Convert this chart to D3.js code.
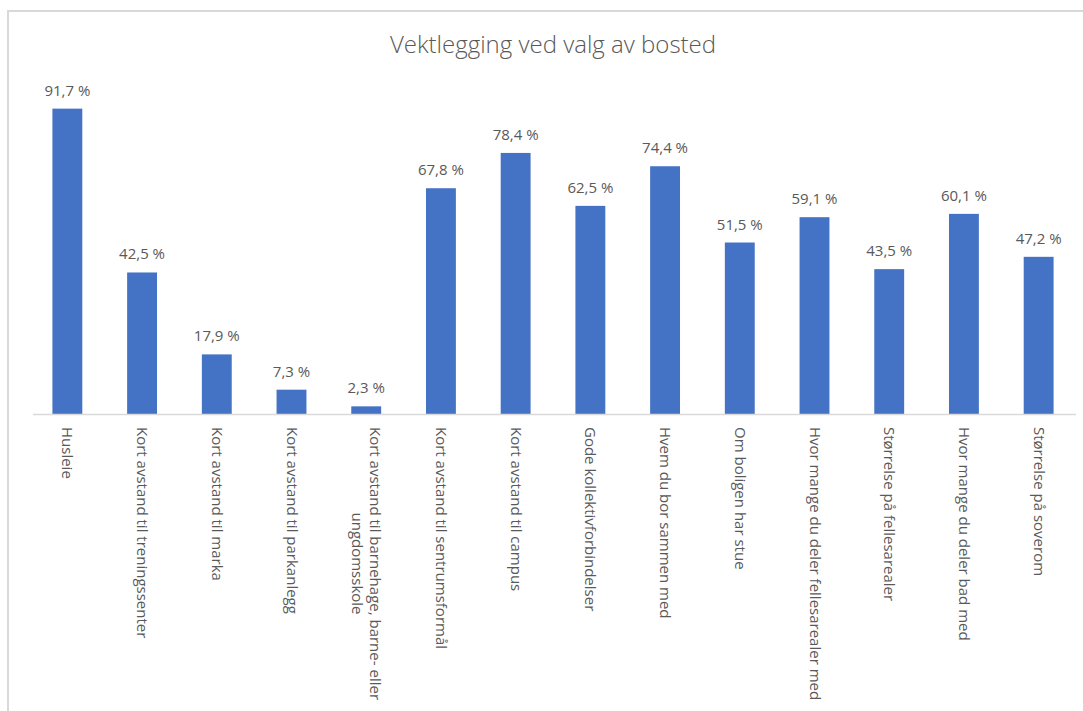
<!DOCTYPE html>
<html>
<head>
<meta charset="utf-8">
<script src="https://cdn.jsdelivr.net/npm/d3@7"></script>
<style>
  body { margin: 0; background: #fff; }
  text { font-family: "Open Sans", sans-serif; fill: #595959; }
</style>
</head>
<body>
<div class="canvas"></div>
<script>
const categories = [
  'Husleie',
  'Kort avstand til treningssenter',
  'Kort avstand til marka',
  'Kort avstand til parkanlegg',
  'Kort avstand til barnehage, barne- eller|ungdomsskole',
  'Kort avstand til sentrumsformål',
  'Kort avstand til campus',
  'Gode kollektivforbindelser',
  'Hvem du bor sammen med',
  'Om boligen har stue',
  'Hvor mange du deler fellesarealer med',
  'Størrelse på fellesarealer',
  'Hvor mange du deler bad med',
  'Størrelse på soverom'
];
const values = [91.7, 42.5, 17.9, 7.3, 2.3, 67.8, 78.4, 62.5, 74.4, 51.5, 59.1, 43.5, 60.1, 47.2];
const title = 'Vektlegging ved valg av bosted';

const dims = { width: 1083, height: 711 };
const plot = { left: 30, right: 1076, top: 81, bottom: 414 };

const svg = d3
  .select('.canvas')
  .append('svg')
  .attr('width', dims.width)
  .attr('height', dims.height);

// chart frame
svg
  .append('rect')
  .attr('x', 8)
  .attr('y', 11)
  .attr('width', dims.width)
  .attr('height', dims.height)
  .attr('fill', 'none')
  .attr('stroke', '#d9d9d9')
  .attr('stroke-width', 2);

svg
  .append('text')
  .attr('x', 553)
  .attr('y', 53)
  .attr('text-anchor', 'middle')
  .attr('font-size', 24)
  .attr('font-weight', 300)
  .text(title);

const x = d3.scaleBand().domain(categories).range([plot.left, plot.right]).padding(0);
const y = d3.scaleLinear().domain([0, 100]).range([plot.bottom, plot.top]);
const barW = x.bandwidth() * 0.4; // gap width 150%

const graph = svg.append('g');

graph
  .selectAll('rect.bar')
  .data(values)
  .enter()
  .append('rect')
  .attr('class', 'bar')
  .attr('x', (d, i) => x(categories[i]) + (x.bandwidth() - barW) / 2)
  .attr('y', (d) => y(d))
  .attr('width', barW)
  .attr('height', (d) => y(0) - y(d))
  .attr('fill', '#4472c4');

// value labels
graph
  .selectAll('text.val')
  .data(values)
  .enter()
  .append('text')
  .attr('class', 'val')
  .attr('x', (d, i) => x(categories[i]) + x.bandwidth() / 2)
  .attr('y', (d) => y(d) - 13)
  .attr('text-anchor', 'middle')
  .attr('font-size', 15)
  .text((d) => d.toFixed(1).replace('.', ',') + ' %');

// x axis line
svg
  .append('line')
  .attr('x1', plot.left + 3)
  .attr('x2', plot.right)
  .attr('y1', plot.bottom + 0.5)
  .attr('y2', plot.bottom + 0.5)
  .attr('stroke', '#d9d9d9')
  .attr('stroke-width', 1.5);

// rotated category labels
categories.forEach((c, i) => {
  const cx = x(c) + x.bandwidth() / 2;
  const lines = c.split('|');
  const g = svg
    .append('g')
    .attr('transform', `translate(${cx}, ${plot.bottom + 13}) rotate(90)`);
  const t = g.append('text').attr('font-size', 15);
  const spans = lines.map((l, j) =>
    t.append('tspan').attr('x', 0).attr('y', (j - (lines.length - 1) / 2) * 18 + 5).text(l)
  );
  // centre extra lines against the first one
  if (spans.length > 1) {
    const w0 = spans[0].node().getComputedTextLength();
    spans.forEach((s) => {
      const w = s.node().getComputedTextLength();
      s.attr('x', (w0 - w) / 2);
    });
  }
});
</script>
</body>
</html>
